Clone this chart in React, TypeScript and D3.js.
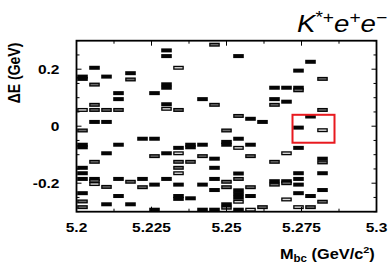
import React from 'react';
import * as d3 from 'd3';

// Candidate events: Mbc (GeV/c^2), Delta E (GeV), entry type (s = solid, g = grey core, o = open)
const mbc = [
  5.230, 5.230, 5.234, 5.206, 5.202, 5.202, 5.210, 5.218, 5.218, 5.206,
  5.230, 5.230, 5.214, 5.226, 5.214, 5.206, 5.230, 5.230, 5.202, 5.206,
  5.210, 5.214, 5.234, 5.206, 5.210, 5.246, 5.254, 5.266, 5.242, 5.266,
  5.246, 5.266, 5.254, 5.258, 5.262, 5.278, 5.274, 5.282, 5.270, 5.274,
  5.274, 5.270, 5.282, 5.278, 5.274, 5.282, 5.274, 5.270, 5.282, 5.282,
  5.274, 5.282, 5.274, 5.270, 5.270, 5.274, 5.282, 5.274, 5.278, 5.270,
  5.282, 5.274, 5.278, 5.202, 5.222, 5.226, 5.202, 5.202, 5.214, 5.234,
  5.210, 5.226, 5.230, 5.234, 5.206, 5.234, 5.202, 5.234, 5.202, 5.234,
  5.202, 5.206, 5.206, 5.206, 5.210, 5.214, 5.218, 5.222, 5.222, 5.226,
  5.230, 5.234, 5.202, 5.214, 5.234, 5.234, 5.202, 5.210, 5.218, 5.202,
  5.226, 5.250, 5.238, 5.238, 5.242, 5.250, 5.250, 5.254, 5.254, 5.258,
  5.242, 5.246, 5.258, 5.266, 5.238, 5.246, 5.254, 5.254, 5.250, 5.250,
  5.242, 5.246, 5.246, 5.258, 5.258, 5.266, 5.266, 5.238, 5.254, 5.254,
  5.254, 5.254, 5.250, 5.250, 5.242, 5.246, 5.258, 5.262, 5.254,
];
const deltaE = [
  0.266, 0.246, 0.205, 0.205, 0.174, 0.166, 0.174, 0.186, 0.164, 0.146,
  0.147, 0.135, 0.116, 0.116, 0.095, 0.075, 0.077, 0.061, 0.057, 0.057,
  0.057, 0.057, 0.057, 0.015, 0.015, 0.286, 0.246, 0.135, 0.095, 0.095,
  0.075, 0.075, 0.036, 0.026, 0.015, 0.226, 0.195, 0.166, 0.135, 0.135,
  0.126, 0.086, 0.057, 0.034, -0.005, -0.014, -0.076, -0.095, -0.114, -0.127,
  -0.165, -0.165, -0.185, -0.193, -0.200, -0.205, -0.224, -0.235, -0.245, -0.257,
  -0.265, -0.284, -0.284, -0.015, -0.044, -0.044, -0.065, -0.074, -0.065, -0.076,
  -0.095, -0.105, -0.095, -0.095, -0.125, -0.125, -0.146, -0.146, -0.165, -0.165,
  -0.185, -0.185, -0.192, -0.203, -0.213, -0.185, -0.195, -0.185, -0.214, -0.205,
  -0.185, -0.205, -0.235, -0.245, -0.245, -0.255, -0.264, -0.274, -0.274, -0.284,
  -0.293, -0.015, -0.065, -0.074, -0.065, -0.055, -0.065, -0.044, -0.076, -0.065,
  -0.105, -0.114, -0.105, -0.125, -0.125, -0.146, -0.166, -0.185, -0.195, -0.214,
  -0.205, -0.185, -0.224, -0.214, -0.245, -0.193, -0.205, -0.253, -0.225, -0.238,
  -0.251, -0.265, -0.274, -0.286, -0.293, -0.293, -0.293, -0.284, -0.293,
];
const entryType = [
  's', 's', 'o', 's', 's', 's', 's', 's', 'g', 'g',
  's', 's', 's', 's', 's', 'g', 's', 'o', 'o', 'g',
  'g', 'g', 'g', 's', 's', 'g', 's', 's', 's', 's',
  'g', 'g', 'g', 's', 's', 's', 's', 'g', 's', 's',
  'g', 's', 'g', 's', 's', 'o', 's', 'o', 's', 'g',
  's', 's', 's', 's', 'g', 's', 's', 's', 's', 'o',
  'g', 'o', 'g', 'g', 's', 's', 's', 's', 's', 's',
  's', 'g', 's', 'o', 'g', 'g', 's', 'g', 's', 'o',
  's', 's', 'g', 'o', 'g', 's', 'g', 's', 'g', 's',
  's', 's', 's', 's', 's', 's', 'g', 's', 's', 'g',
  's', 'g', 's', 's', 's', 's', 's', 's', 'o', 's',
  'g', 's', 'g', 'g', 'g', 's', 's', 'g', 'g', 'g',
  's', 's', 's', 'g', 's', 's', 'g', 's', 's', 's',
  's', 'o', 's', 'g', 's', 's', 'o', 'g', 's',
];

const xDomain = [5.2, 5.3];
const yDomain = [-0.3, 0.3];
const xTickValues = [5.2, 5.225, 5.25, 5.275, 5.3];
const xTickLabels = ['5.2', '5.225', '5.25', '5.275', '5.3'];
const yTickValues = [0.2, 0, -0.2];
const yTickLabels = ['0.2', '0', '-0.2'];
const signalMbc = [5.272, 5.286];
const signalDE = [-0.058, 0.04];

const SX = 1.15;
const FONT = "'Liberation Sans', Arial, Helvetica, sans-serif";

export default function App() {
  const left = 76.5, right = 376.5, top = 40.7, bottom = 211.7;
  const x = d3.scaleLinear().domain(xDomain).range([left, right]);
  const y = d3.scaleLinear().domain(yDomain).range([bottom, top]);
  const xMinor = d3.range(0, 9).map((i) => xDomain[0] + i * 0.0125);
  const yMinor = d3.range(-6, 7).map((i) => i * 0.05);
  const bw = 10.6, bh = 4.0, inset = 1.3;

  return (
    <svg width={388} height={269} style={{ position: 'absolute', left: 0, top: 0, background: '#fff' }}>
      <rect x={0} y={0} width={388} height={269} fill="#fff" />
      {mbc.map((m, i) => {
        const cx = x(m), cy = y(deltaE[i]);
        const t = entryType[i];
        return (
          <g key={i}>
            <rect x={cx - bw / 2} y={cy - bh / 2} width={bw} height={bh} fill="#050505" />
            {t !== 's' && (
              <rect x={cx - bw / 2 + inset} y={cy - bh / 2 + inset} width={bw - 2 * inset} height={bh - 2 * inset}
                fill={t === 'o' ? '#d8d8d8' : '#6a6a6a'} />
            )}
          </g>
        );
      })}
      {xMinor.map((v, i) => {
        const len = i % 2 === 0 ? 5 : 3;
        return (
          <g key={'xt' + i} stroke="#000" strokeWidth={1}>
            <line x1={x(v)} x2={x(v)} y1={bottom} y2={bottom - len} />
            <line x1={x(v)} x2={x(v)} y1={top} y2={top + len} />
          </g>
        );
      })}
      {yMinor.map((v, i) => {
        const len = Math.abs(Math.round(v * 100)) % 20 === 0 ? 5 : 3;
        return (
          <g key={'yt' + i} stroke="#000" strokeWidth={1}>
            <line x1={left} x2={left + len} y1={y(v)} y2={y(v)} />
            <line x1={right} x2={right - len} y1={y(v)} y2={y(v)} />
          </g>
        );
      })}
      <rect x={x(signalMbc[0])} y={y(signalDE[1])} width={x(signalMbc[1]) - x(signalMbc[0])}
        height={y(signalDE[0]) - y(signalDE[1])} fill="none" stroke="#e8191f" strokeWidth={2} />
      <rect x={left} y={top} width={right - left} height={bottom - top} fill="none" stroke="#000" strokeWidth={1.8} />
      {xTickValues.map((v, i) => (
        <text key={'xl' + i} transform={`translate(${x(v)},231.5) scale(${SX},1)`} textAnchor="middle"
          fontFamily={FONT} fontWeight="bold" fontSize={13.5} fill="#000">{xTickLabels[i]}</text>
      ))}
      {yTickValues.map((v, i) => (
        <text key={'yl' + i} transform={`translate(59.5,${y(v) + 5}) scale(${SX},1)`} textAnchor="end"
          fontFamily={FONT} fontWeight="bold" fontSize={13.5} fill="#000">{yTickLabels[i]}</text>
      ))}
      <text transform={`translate(280,258.5) scale(${SX},1)`} fontFamily={FONT} fontWeight="bold" fontSize={14.2} fill="#000">
        M<tspan fontSize={10} dy={3}>bc</tspan><tspan dy={-3}> (GeV/c</tspan><tspan fontSize={9.5} dy={-6}>2</tspan><tspan dy={6}>)</tspan>
      </text>
      <text transform={`translate(19.5,73) rotate(-90) scale(1,${SX})`} textAnchor="middle" fontFamily={FONT}
        fontWeight="bold" fontSize={14} fill="#000">ΔE (GeV)</text>
      <text transform={`translate(297,32) scale(1.2,1)`} fontFamily={FONT} fontSize={23} fill="#000">
        <tspan fontStyle="italic">K</tspan><tspan fontSize={16} dy={-9}>*+</tspan><tspan dy={9} fontStyle="italic">e</tspan><tspan fontSize={16} dy={-9}>+</tspan><tspan dy={9} fontStyle="italic">e</tspan><tspan fontSize={16} dy={-9}>−</tspan>
      </text>
    </svg>
  );
}
